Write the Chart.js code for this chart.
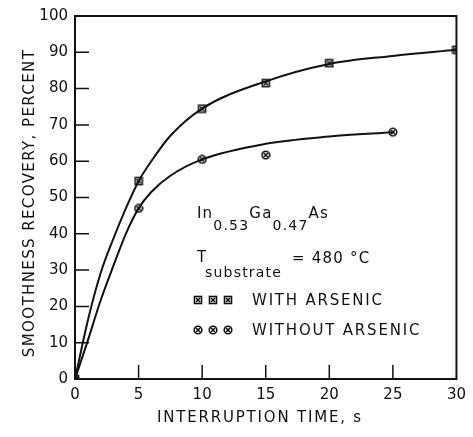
<!DOCTYPE html>
<html>
<head>
<meta charset="utf-8">
<script src="https://cdn.jsdelivr.net/npm/chart.js@4/dist/chart.umd.min.js"></script>
<style>
html, body { margin: 0; padding: 0; background: #fff; }
</style>
</head>
<body>
<canvas id="chart-recovery" width="473" height="437"></canvas>
<script>
// measured points
var timeWith = [0, 5, 10, 15, 20, 30];
var recoveryWith = [0, 54.5, 74.5, 81.5, 87, 90.7];
var timeWithout = [0, 5, 10, 15, 25];
var recoveryWithout = [0, 47, 60.5, 61.7, 68];

// the hand drawn fit curves
var curveWithTime = [0, 1, 2, 3, 4, 5, 6, 7.5, 10, 15, 20, 25, 30];
var curveWithValue = [0, 16, 29, 38.5, 47, 54.5, 60, 67, 74.5, 82, 86.8, 89, 90.7];
var curveWithoutTime = [0, 1, 2, 3, 4, 5, 6, 7.5, 10, 15, 20, 25];
var curveWithoutValue = [0, 10.5, 21.5, 31, 40, 47, 51.5, 56, 60.5, 64.8, 66.8, 68];

var xTicks = [0, 5, 10, 15, 20, 25, 30];
var yTicks = [0, 10, 20, 30, 40, 50, 60, 70, 80, 90, 100];

var INK = '#111';
var FONT = '"DejaVu Sans", sans-serif';

function pairs(xs, ys) {
    return xs.map(function (x, i) { return { x: x, y: ys[i] }; });
}

function marker(square) {
    var c = document.createElement('canvas');
    c.width = 10;
    c.height = 10;
    var g = c.getContext('2d');
    g.strokeStyle = INK;
    g.lineWidth = 1.6;
    if (square) {
        g.strokeRect(1.5, 1.5, 7, 7);
    } else {
        g.beginPath();
        g.arc(5, 5, 3.8, 0, Math.PI * 2);
        g.stroke();
    }
    g.beginPath();
    g.moveTo(3, 3); g.lineTo(7, 7);
    g.moveTo(7, 3); g.lineTo(3, 7);
    g.stroke();
    return c;
}

var markWith = marker(true);
var markWithout = marker(false);

function useTicks(values) {
    return function (scale) {
        scale.ticks = values.map(function (v) { return { value: v }; });
    };
}

// box, inward ticks, axis titles and the key inside the plot
var decorations = {
    id: 'decorations',
    afterDraw: function (chart) {
        var ctx = chart.ctx;
        var a = chart.chartArea;
        var xs = chart.scales.x, ys = chart.scales.y;
        ctx.save();
        ctx.strokeStyle = INK;
        ctx.fillStyle = INK;
        ctx.lineWidth = 2;
        ctx.strokeRect(a.left, a.top, a.right - a.left, a.bottom - a.top);

        ctx.lineWidth = 1.5;
        ctx.beginPath();
        xTicks.slice(1, -1).forEach(function (v) {
            var px = xs.getPixelForValue(v);
            ctx.moveTo(px, a.bottom);
            ctx.lineTo(px, a.bottom - 14);
        });
        yTicks.slice(1, -1).forEach(function (v) {
            var py = ys.getPixelForValue(v);
            ctx.moveTo(a.left, py);
            ctx.lineTo(a.left + 14, py);
        });
        ctx.stroke();

        ctx.letterSpacing = '1.4px';
        ctx.font = '15px ' + FONT;
        ctx.textAlign = 'center';
        ctx.textBaseline = 'middle';
        ctx.save();
        ctx.translate(30, 203);
        ctx.rotate(-Math.PI / 2);
        ctx.fillText('SMOOTHNESS RECOVERY, PERCENT', 0, 0);
        ctx.restore();
        ctx.letterSpacing = '1.8px';
        ctx.fillText('INTERRUPTION TIME, s', 260, 418);

        ctx.textAlign = 'left';
        ctx.textBaseline = 'alphabetic';
        ctx.letterSpacing = '1.2px';
        var x = 197;
        [['In', 0], ['0.53', 1], ['Ga', 0], ['0.47', 1], ['As', 0]].forEach(function (p) {
            ctx.font = (p[1] ? '14px ' : '15px ') + FONT;
            ctx.fillText(p[0], x, p[1] ? 230 : 218);
            x += ctx.measureText(p[0]).width;
        });
        ctx.font = '15px ' + FONT;
        ctx.fillText('T', 197, 262);
        ctx.fillText('= 480 \u00B0C', 292, 263);
        ctx.font = '14px ' + FONT;
        ctx.fillText('substrate', 205, 277);

        ctx.font = '15px ' + FONT;
        ctx.letterSpacing = '1.8px';
        ctx.textBaseline = 'middle';
        [198, 213, 228].forEach(function (mx) {
            ctx.drawImage(markWith, mx - 5, 295);
            ctx.drawImage(markWithout, mx - 5, 325);
        });
        ctx.fillText('WITH ARSENIC', 252, 301);
        ctx.fillText('WITHOUT ARSENIC', 252, 331);
        ctx.restore();
    }
};

function chart() {
    var ctx = document.getElementById('chart-recovery');
    var tickFont = { family: FONT, size: 15 };
    new Chart(ctx, {
        type: 'scatter',
        data: {
            datasets: [
                {
                    data: pairs(curveWithTime, curveWithValue),
                    showLine: true,
                    borderColor: INK,
                    borderWidth: 2,
                    pointRadius: 0,
                    cubicInterpolationMode: 'monotone'
                },
                {
                    data: pairs(curveWithoutTime, curveWithoutValue),
                    showLine: true,
                    borderColor: INK,
                    borderWidth: 2,
                    pointRadius: 0,
                    cubicInterpolationMode: 'monotone'
                },
                {
                    label: 'WITH ARSENIC',
                    data: pairs(timeWith, recoveryWith),
                    pointStyle: markWith,
                    pointRadius: 5
                },
                {
                    label: 'WITHOUT ARSENIC',
                    data: pairs(timeWithout, recoveryWithout),
                    pointStyle: markWithout,
                    pointRadius: 5
                }
            ]
        },
        options: {
            responsive: false,
            animation: false,
            devicePixelRatio: 1,
            layout: { padding: { left: 0, right: 11, top: 14, bottom: 0 } },
            plugins: { legend: { display: false }, tooltip: { enabled: false } },
            scales: {
                x: {
                    type: 'linear',
                    min: 0,
                    max: 30,
                    afterBuildTicks: useTicks(xTicks),
                    afterFit: function (s) { s.height = 58; },
                    grid: { display: false, drawTicks: false },
                    border: { display: false },
                    ticks: { font: tickFont, color: INK, padding: 7, maxRotation: 0 }
                },
                y: {
                    min: 0,
                    max: 100,
                    afterBuildTicks: useTicks(yTicks),
                    afterFit: function (s) { s.width = 75; },
                    grid: { display: false, drawTicks: false },
                    border: { display: false },
                    ticks: { font: tickFont, color: INK, padding: 7 }
                }
            }
        },
        plugins: [decorations]
    });
}

chart();
</script>
</body>
</html>
